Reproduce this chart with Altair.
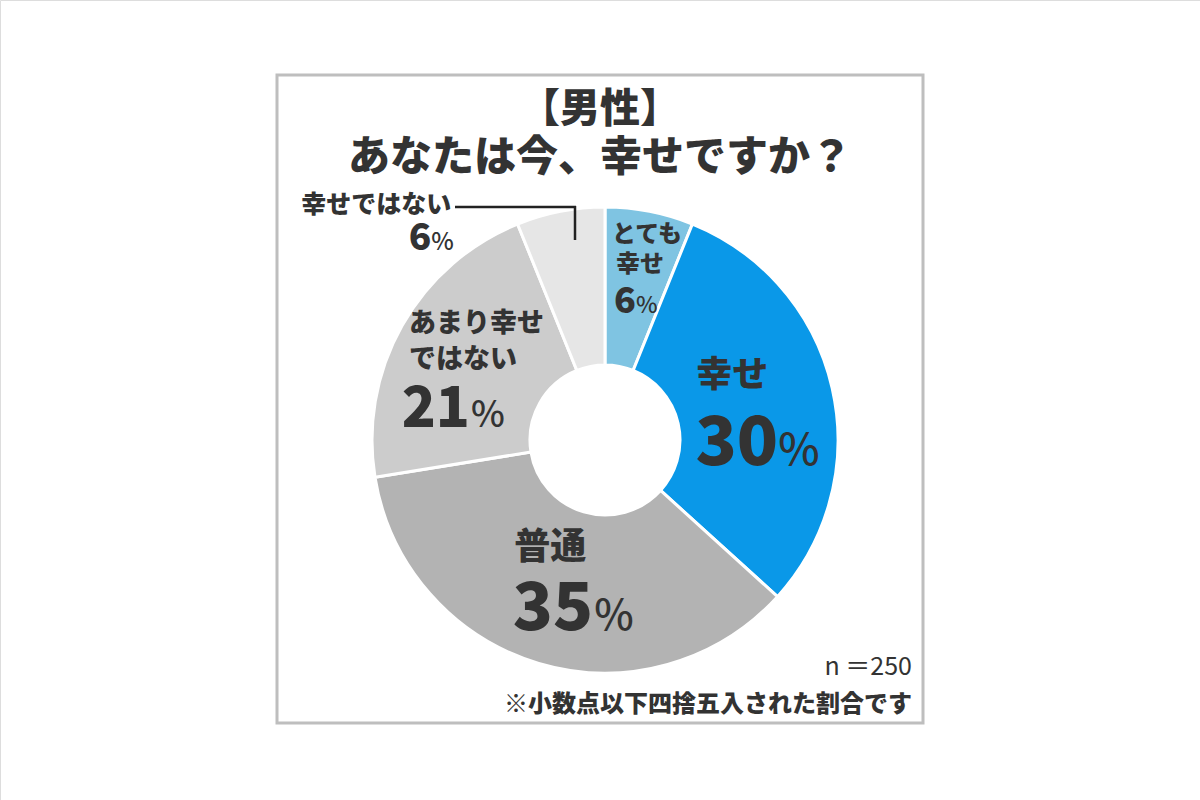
import altair as alt
import pandas as pd

# ---- data ----
categories = ["とても幸せ", "幸せ", "普通", "あまり幸せではない", "幸せではない"]
values = [6, 30, 35, 21, 6]
colors = ["#7FC4E2", "#0A98E8", "#B3B3B3", "#CCCCCC", "#E6E6E6"]

FONT = "Noto Sans CJK JP"
INK = "#333333"
HEAVY = 900
CX, CY = 605, 440

df = pd.DataFrame({"cat": categories, "val": values, "idx": list(range(len(categories)))})

base = alt.Chart(df)

arc = base.mark_arc(outerRadius=233, innerRadius=75, stroke="white", strokeWidth=3).encode(
    theta=alt.Theta("val:Q", stack=True),
    order=alt.Order("idx:Q"),
    color=alt.Color("cat:N", scale=alt.Scale(domain=categories, range=colors), legend=None),
    x=alt.value(CX),
    y=alt.value(CY),
)

# label spec per category: (radius, [ (text, size, weight, align, baseline, dx, dy) ... ])
label_spec = {
    "とても幸せ": (170, [
        ("とても", 24, HEAVY, "center", "middle", 9.5, -38),
        ("幸せ", 24, HEAVY, "center", "middle", 2.5, -8),
        ("6", 36, HEAVY, "right", "alphabetic", -1.5, 40),
        ("%", 23, 500, "left", "alphabetic", -1.5, 40),
    ]),
    "幸せ": (150, [
        ("幸せ", 36, HEAVY, "center", "middle", -19, -31),
        ("30", 68, HEAVY, "right", "alphabetic", 27, 58),
        ("%", 44, 500, "left", "alphabetic", 27, 58),
    ]),
    "普通": (140, [
        ("普通", 36, HEAVY, "center", "middle", -15, -26),
        ("35", 66, HEAVY, "right", "alphabetic", 28, 56),
        ("%", 42, 500, "left", "alphabetic", 29, 56),
    ]),
    "あまり幸せではない": (160, [
        ("あまり幸せ", 27, HEAVY, "left", "middle", -56.6, -37.5),
        ("ではない", 27, HEAVY, "left", "middle", -56.6, -1.5),
        ("21", 56, HEAVY, "right", "alphabetic", 4.4, 65.5),
        ("%", 36, 500, "left", "alphabetic", 5.4, 65.5),
    ]),
    "幸せではない": (250, [
        ("幸せではない", 25, HEAVY, "right", "middle", -106, 10.4),
        ("6", 37, HEAVY, "right", "alphabetic", -126, 55.4),
        ("%", 24, 500, "left", "alphabetic", -126, 55.4),
    ]),
}

layers = [arc]
for cat, (r, lines) in label_spec.items():
    for (txt, size, weight, align, baseline, dx, dy) in lines:
        expr = f"datum.cat == '{cat}' ? '{txt}' : ''"
        layers.append(
            base.transform_calculate(lbl=expr).mark_text(
                radius=r, font=FONT, fontSize=size, fontWeight=weight, color=INK,
                align=align, baseline=baseline, dx=dx, dy=dy,
            ).encode(
                theta=alt.Theta("val:Q", stack=True),
                order=alt.Order("idx:Q"),
                text="lbl:N",
                x=alt.value(CX),
                y=alt.value(CY),
            )
        )

# leader line for 幸せではない
leader_h = alt.Chart(pd.DataFrame({"a": [0]})).mark_rule(color="#222222", strokeWidth=2.5).encode(
    x=alt.value(455), x2=alt.value(576), y=alt.value(207))
leader_v = alt.Chart(pd.DataFrame({"a": [0]})).mark_rule(color="#222222", strokeWidth=2.5).encode(
    x=alt.value(575), y=alt.value(206), y2=alt.value(240))

# frame
frame = alt.Chart(pd.DataFrame({"a": [0]})).mark_rect(
    fillOpacity=0, stroke="#BEBEBE", strokeWidth=3
).encode(x=alt.value(277), x2=alt.value(923), y=alt.value(75), y2=alt.value(723))

def txt(t, x, y, size, weight=HEAVY, align="center", baseline="middle"):
    return alt.Chart(pd.DataFrame({"t": [t]})).mark_text(
        font=FONT, fontSize=size, fontWeight=weight, color=INK, align=align, baseline=baseline
    ).encode(text="t:N", x=alt.value(x), y=alt.value(y))

title1 = txt("【男性】", 600, 110, 40)
title2 = txt("あなたは今、幸せですか？", 600, 158, 42)
note1 = txt("n ＝250", 912, 667, 25, weight="normal", align="right")
note2 = txt("※小数点以下四捨五入された割合です", 912, 705, 24, align="right")

chart = alt.layer(frame, *layers, leader_h, leader_v, title1, title2, note1, note2).properties(
    width=1200, height=800, autosize="none", padding=0
).configure_view(strokeWidth=0).configure(background="white")

chart.save("out.html", embed_options={"renderer": "svg", "actions": False})
